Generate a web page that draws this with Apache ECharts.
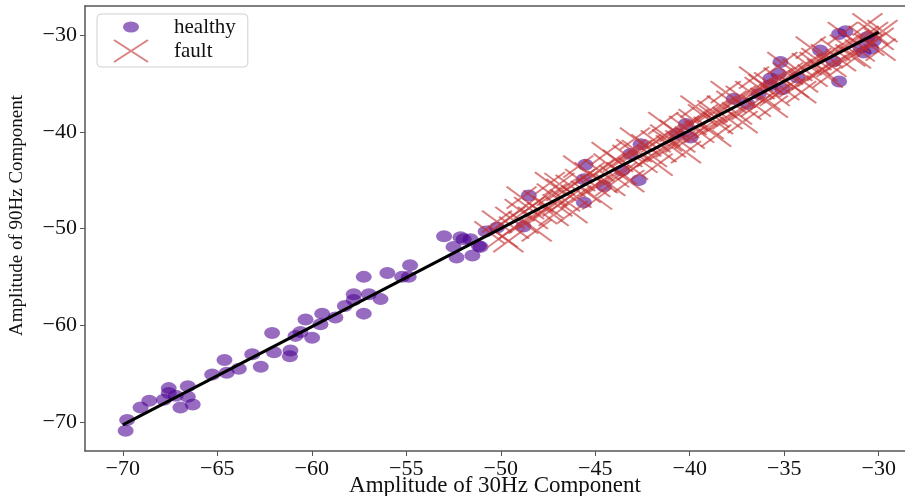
<!DOCTYPE html>
<html>
<head>
<meta charset="UTF-8">
<title>30Hz vs 90Hz amplitude</title>
<script src="https://cdn.jsdelivr.net/npm/echarts@6/dist/echarts.min.js"></script>
<style>
  html, body { margin: 0; padding: 0; background: #fff; }
  #main { width: 905px; height: 496px; }
</style>
</head>
<body>
<div id="main"></div>
<script>
// healthy samples [30Hz, 90Hz]
var healthy = [
  [-69.85,-70.9],[-69.77,-69.8],[-69.06,-68.5],[-68.6,-67.8],[-67.83,-67.7],[-67.57,-66.5],
  [-67.57,-67.0],[-67.2,-67.3],[-66.95,-68.5],[-66.56,-67.4],[-66.56,-66.3],[-66.3,-68.2],
  [-65.27,-65.1],[-64.62,-63.6],[-64.5,-64.9],[-63.86,-64.5],[-63.15,-63.0],[-62.7,-64.3],
  [-62.1,-60.8],[-62.0,-62.8],[-61.13,-62.6],[-61.16,-63.2],[-60.86,-61.1],[-60.6,-60.7],
  [-59.98,-61.3],[-60.33,-59.4],[-59.54,-59.9],[-59.45,-58.8],[-58.75,-59.2],[-58.25,-58.0],
  [-57.78,-56.8],[-57.78,-57.4],[-57.25,-58.8],[-56.98,-56.8],[-56.36,-57.3],[-57.25,-55.0],
  [-56.0,-54.6],[-55.22,-55.0],[-54.87,-55.0],[-54.8,-53.8],[-53.0,-50.8],[-52.13,-50.9],
  [-51.96,-51.1],[-51.6,-51.1],[-52.5,-51.9],[-52.34,-53.0],[-51.5,-52.8],[-51.16,-51.8],
  [-51.07,-51.9],[-50.8,-50.3],[-50.2,-49.9],[-48.8,-49.8],[-48.52,-46.6],[-45.52,-43.4],
  [-45.6,-44.9],[-44.55,-45.6],[-45.6,-47.3],[-42.7,-45.0],[-43.58,-44.0],[-43.14,-42.3],
  [-42.6,-41.3],[-40.67,-40.2],[-40.2,-39.2],[-39.96,-40.6],[-37.67,-36.6],[-36.96,-37.1],
  [-36.35,-36.1],[-35.73,-35.2],[-35.3,-34.0],[-35.2,-32.8],[-35.1,-35.6],[-34.3,-34.4],
  [-32.1,-34.8],[-32.38,-32.7],[-35.73,-34.5],[-33.1,-31.6],[-32.1,-29.9],[-31.76,-29.6],
  [-30.97,-31.3],[-30.4,-31.4],[-30.26,-30.6],[-30.6,-30.2],[-30.8,-31.8]
];

// fault samples [30Hz, 90Hz]
var fault = [
  [-50.6,-50.4],[-50.2,-49.3],[-49.9,-50.8],[-49.5,-48.9],[-49.3,-49.9],[-49.0,-48.1],
  [-48.8,-49.4],[-48.5,-47.9],[-48.3,-48.9],[-48.0,-47.2],[-47.8,-48.4],[-47.5,-47.8],
  [-47.3,-46.5],[-47.0,-47.6],[-46.8,-46.0],[-46.6,-47.1],[-46.3,-45.6],[-46.0,-46.7],
  [-45.8,-45.0],[-45.5,-46.2],[-45.3,-44.3],[-45.0,-45.6],[-44.8,-44.0],[-44.6,-45.2],
  [-44.3,-43.4],[-44.0,-44.6],[-43.8,-43.0],[-43.6,-44.3],[-43.3,-42.5],[-43.0,-43.8],
  [-42.8,-42.0],[-42.5,-43.1],[-42.3,-41.4],[-42.0,-42.5],[-41.8,-41.0],[-41.5,-42.0],
  [-41.3,-40.4],[-41.0,-41.5],[-40.8,-39.9],[-40.5,-41.0],[-40.3,-39.5],[-40.0,-40.6],
  [-39.8,-38.8],[-39.5,-40.0],[-39.3,-38.3],[-39.0,-39.6],[-38.8,-37.9],[-38.5,-39.1],
  [-38.3,-37.4],[-38.0,-38.6],[-37.8,-36.9],[-37.5,-38.1],[-37.3,-36.4],[-37.0,-37.6],
  [-36.8,-35.9],[-36.5,-37.3],[-36.3,-35.5],[-36.0,-36.6],[-35.8,-35.0],[-35.5,-36.2],
  [-35.3,-34.5],[-35.0,-35.6],[-34.8,-34.0],[-34.5,-35.3],[-34.3,-33.6],[-34.0,-34.8],
  [-33.8,-33.0],[-33.5,-34.2],[-33.3,-32.5],[-33.0,-33.6],[-32.8,-32.1],[-32.5,-33.2],
  [-32.3,-31.5],[-32.0,-32.6],[-31.8,-31.1],[-31.5,-32.1],[-31.3,-30.6],[-31.0,-31.6],
  [-30.8,-30.2],[-30.5,-31.0],[-30.3,-29.8],[-30.0,-30.4],[-29.8,-29.6],
  [-47.2,-48.6],[-44.2,-45.5],[-41.2,-40.9],[-38.7,-38.4],[-36.1,-35.2],[-33.4,-32.9],
  [-31.2,-32.3],[-46.9,-45.4],[-43.1,-41.9],[-39.9,-39.2],
  [-49.6,-51.3],[-48.1,-50.2],[-46.2,-48.3],[-44.9,-46.9],[-43.2,-45.1],[-41.7,-43.4],
  [-40.2,-42.1],[-38.6,-40.4],[-37.2,-39.0],[-35.6,-37.4],[-34.1,-35.9],[-32.7,-34.3],
  [-48.9,-46.8],[-47.4,-45.3],[-45.9,-43.6],[-44.4,-42.2],[-42.9,-40.7],[-41.4,-39.1],
  [-39.7,-37.4],[-38.1,-35.9],[-36.6,-34.4],[-35.1,-32.9],[-33.6,-31.3],[-31.9,-29.8],
  [-30.6,-28.9],[-29.9,-31.5]
];

// fitted line end points
var fitLine = [[-70, -70.3], [-30, -29.7]];

var xTicks = [-70, -65, -60, -55, -50, -45, -40, -35, -30];
var yTicks = [-70, -60, -50, -40, -30];

var serif = '"Liberation Serif", "Times New Roman", serif';
var axisColor = '#555';
function minus(v) { return String(v).replace('-', '\u2212'); }

var myChart = echarts.init(document.getElementById('main'));

var option = {
    animation: false,
    grid: { left: 85, right: 0, top: 6, bottom: 45, outerBoundsMode: 'none' },
    legend: {
        orient: 'vertical',
        left: 97,
        top: 14,
        padding: [2, 12, 4, 5],
        itemWidth: 56,
        itemHeight: 22,
        itemGap: 1,
        borderColor: '#d0d0d0',
        borderWidth: 1,
        borderRadius: 4,
        backgroundColor: 'rgba(255,255,255,0.85)',
        textStyle: { fontFamily: serif, fontSize: 21, color: '#111', padding: [0, 0, 0, 10] },
        data: [
            { name: 'healthy', icon: 'path://M0,0M56,22M20,11a8,5.5 0 1,0 16,0a8,5.5 0 1,0 -16,0' },
            { name: 'fault', icon: 'path://M0,0M56,22M11,0L45,22M45,0L11,22' }
        ]
    },
    xAxis: [{
        type: 'value',
        min: -72,
        max: -28.61,
        name: 'Amplitude of 30Hz Component',
        nameLocation: 'middle',
        nameGap: 23,
        nameMoveOverlap: false,
        nameTextStyle: { fontFamily: serif, fontSize: 23, color: '#111' },
        axisLine: { show: true, lineStyle: { color: axisColor, width: 1.5 } },
        axisTick: { show: true, length: 5, lineStyle: { color: axisColor }, customValues: xTicks },
        splitLine: { show: false },
        axisLabel: {
            margin: 7,
            fontFamily: serif, fontSize: 22, color: '#111',
            customValues: xTicks,
            formatter: minus
        }
    }, {
        type: 'value',
        position: 'top',
        min: -72,
        max: -28.61,
        axisLine: { show: true, onZero: false, lineStyle: { color: axisColor, width: 1.5 } },
        axisTick: { show: false },
        axisLabel: { show: false },
        splitLine: { show: false }
    }],
    yAxis: {
        type: 'value',
        min: -73,
        max: -27,
        name: 'Amplitude of 90Hz Component',
        nameLocation: 'middle',
        nameGap: 58,
        nameMoveOverlap: false,
        nameTextStyle: { fontFamily: serif, fontSize: 19, color: '#111', padding: [0, 0, 0, 26] },
        axisLine: { show: true, lineStyle: { color: axisColor, width: 1.5 } },
        axisTick: { show: true, length: 5, lineStyle: { color: axisColor }, customValues: yTicks },
        splitLine: { show: false },
        axisLabel: {
            margin: 8,
            fontFamily: serif, fontSize: 22, color: '#111',
            customValues: yTicks,
            formatter: minus
        }
    },
    series: [
        {
            name: 'healthy',
            type: 'scatter',
            symbol: 'circle',
            symbolSize: [16, 12],
            itemStyle: { color: 'rgba(75,0,145,0.72)' },
            data: healthy,
            z: 2
        },
        {
            name: 'fault',
            type: 'scatter',
            symbol: 'path://M0,0L30,22M0,22L30,0',
            symbolSize: [30, 22],
            itemStyle: { color: 'rgba(0,0,0,0)', borderColor: 'rgba(195,45,45,0.75)', borderWidth: 2 },
            data: fault,
            z: 3
        },
        {
            name: 'fit',
            type: 'line',
            data: fitLine,
            showSymbol: false,
            lineStyle: { color: '#000', width: 3 },
            z: 4
        }
    ]
};
myChart.setOption(option);
</script>
</body>
</html>
